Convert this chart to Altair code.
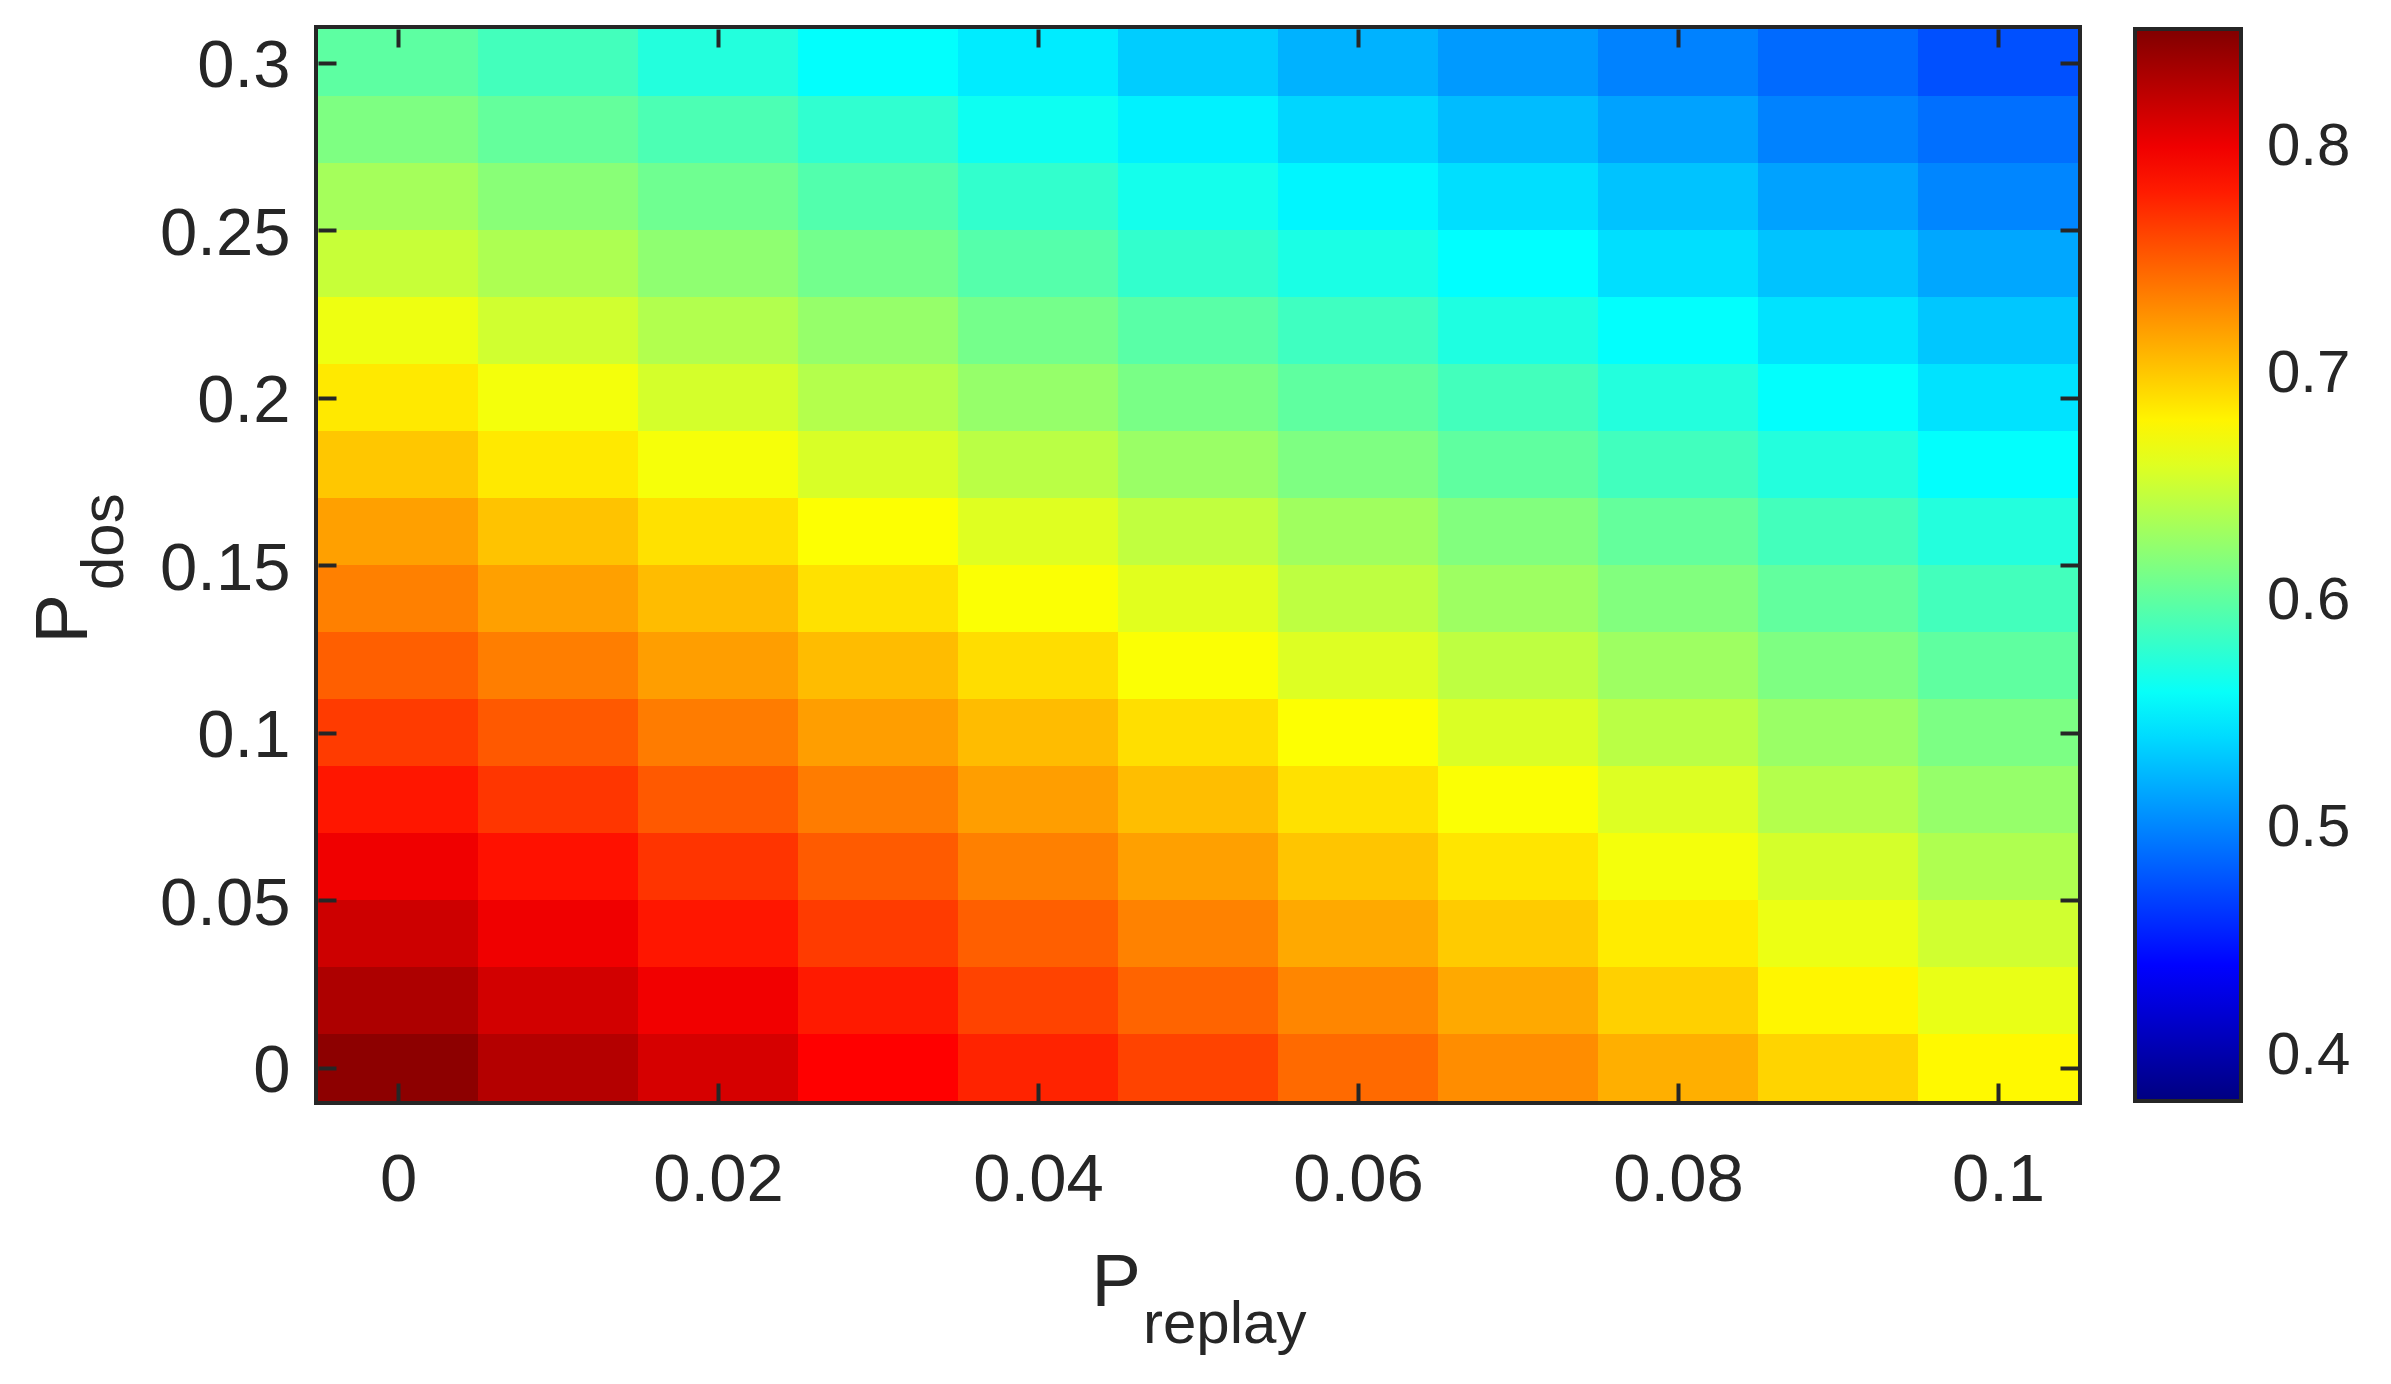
import altair as alt
import pandas as pd

DARK = "#262626"
FONT = "Liberation Sans"

# ---- data ----
x_vals = [0.0, 0.01, 0.02, 0.03, 0.04, 0.05, 0.06, 0.07, 0.08, 0.09, 0.1]
y_vals = [0.0, 0.02, 0.04, 0.06, 0.08, 0.1, 0.12, 0.14, 0.16, 0.18, 0.2,
          0.22, 0.24, 0.26, 0.28, 0.3]

row_y000 = [0.846, 0.828, 0.812, 0.793, 0.777, 0.762, 0.744, 0.728, 0.712, 0.695, 0.678]
row_y002 = [0.831, 0.814, 0.799, 0.781, 0.762, 0.747, 0.731, 0.715, 0.697, 0.679, 0.665]
row_y004 = [0.816, 0.800, 0.783, 0.766, 0.749, 0.733, 0.715, 0.699, 0.684, 0.666, 0.653]
row_y006 = [0.800, 0.785, 0.769, 0.751, 0.734, 0.719, 0.702, 0.687, 0.670, 0.655, 0.638]
row_y008 = [0.783, 0.768, 0.752, 0.736, 0.720, 0.705, 0.689, 0.673, 0.659, 0.640, 0.626]
row_y010 = [0.766, 0.752, 0.736, 0.720, 0.706, 0.690, 0.674, 0.658, 0.643, 0.628, 0.614]
row_y012 = [0.749, 0.735, 0.720, 0.706, 0.691, 0.673, 0.659, 0.645, 0.630, 0.615, 0.601]
row_y014 = [0.734, 0.719, 0.706, 0.689, 0.673, 0.661, 0.645, 0.630, 0.617, 0.602, 0.588]
row_y016 = [0.719, 0.703, 0.689, 0.674, 0.660, 0.646, 0.631, 0.617, 0.603, 0.588, 0.573]
row_y018 = [0.701, 0.685, 0.671, 0.657, 0.643, 0.628, 0.615, 0.601, 0.587, 0.573, 0.558]
row_y020 = [0.685, 0.670, 0.655, 0.640, 0.626, 0.613, 0.601, 0.588, 0.573, 0.558, 0.544]
row_y022 = [0.667, 0.653, 0.639, 0.626, 0.611, 0.598, 0.586, 0.571, 0.558, 0.544, 0.531]
row_y024 = [0.649, 0.637, 0.623, 0.610, 0.596, 0.580, 0.569, 0.557, 0.542, 0.529, 0.516]
row_y026 = [0.633, 0.620, 0.608, 0.595, 0.580, 0.566, 0.553, 0.542, 0.529, 0.514, 0.501]
row_y028 = [0.615, 0.603, 0.592, 0.579, 0.563, 0.551, 0.538, 0.526, 0.514, 0.499, 0.490]
row_y030 = [0.600, 0.588, 0.573, 0.558, 0.548, 0.534, 0.521, 0.510, 0.499, 0.488, 0.476]

rows = [row_y000, row_y002, row_y004, row_y006, row_y008, row_y010, row_y012,
        row_y014, row_y016, row_y018, row_y020, row_y022, row_y024, row_y026,
        row_y028, row_y030]

x_ticks = [0, 0.02, 0.04, 0.06, 0.08, 0.1]
y_ticks = [0, 0.05, 0.1, 0.15, 0.2, 0.25, 0.3]
cbar_ticks = [0.4, 0.5, 0.6, 0.7, 0.8]
cbar_min, cbar_max = 0.38, 0.852

records = []
for yv, row in zip(y_vals, rows):
    for xv, val in zip(x_vals, row):
        records.append({"x": xv, "y": yv, "v": val})
df = pd.DataFrame(records)

# jet colormap stops
jet = ["#000080", "#0000ff", "#0080ff", "#00ffff", "#80ff80",
       "#ffff00", "#ff8000", "#ff0000", "#800000"]
jet_domain = [cbar_min + k * (cbar_max - cbar_min) / 8 for k in range(9)]
color_scale = alt.Scale(type="linear", domain=jet_domain, range=jet,
                        interpolate="rgb")

xs = alt.Scale(domain=[-0.005, 0.105], nice=False, zero=False)
ys = alt.Scale(domain=[-0.01, 0.31], nice=False, zero=False)

PLOT_W, PLOT_H = 1760, 1072

tick_style = dict(offset=-18, tickSize=18, tickWidth=4, tickColor=DARK,
                  domain=False, grid=False, labelFont=FONT, labelFontSize=67,
                  labelColor=DARK, labelOverlap=False, labelFlush=False,
                  titleFont=FONT, titleFontSize=74, titleFontWeight="normal",
                  titleColor=DARK, zindex=2)

base = alt.Chart(df).transform_calculate(
    x0="datum.x - 0.005", x1="datum.x + 0.005",
    y0="datum.y - 0.01", y1="datum.y + 0.01",
)

heat = base.mark_rect().encode(
    x=alt.X("x0:Q", scale=xs, axis=alt.Axis(
        orient="bottom", values=x_ticks, format="~g", labelPadding=46,
        title="P", titleX=773, titleY=222, titleAlign="left",
        titleBaseline="alphabetic", titleAngle=0, **tick_style)),
    x2="x1:Q",
    y=alt.Y("y0:Q", scale=ys, axis=alt.Axis(
        orient="left", values=y_ticks, format="~g", labelPadding=28,
        labelOffset=4,
        title="P", titleX=-250, titleY=614, titleAlign="left",
        titleBaseline="alphabetic", titleAngle=270, **tick_style)),
    y2="y1:Q",
    color=alt.Color("v:Q", scale=color_scale, legend=alt.Legend(
        type="gradient",
        orient="none", legendX=1817, legendY=0, direction="vertical",
        gradientLength=PLOT_H, gradientThickness=106,
        gradientStrokeColor=DARK, gradientStrokeWidth=4,
        values=cbar_ticks, format="~g", labelFont=FONT, labelFontSize=60,
        labelColor=DARK, labelOffset=26, labelOverlap=False, padding=0,
        title=None)),
)

frame = base.mark_rect(opacity=0).encode(
    x=alt.X("x0:Q", scale=xs, axis=alt.Axis(
        orient="top", values=x_ticks, labels=False, title=None, **tick_style)),
    x2="x1:Q",
    y=alt.Y("y0:Q", scale=ys, axis=alt.Axis(
        orient="right", values=y_ticks, labels=False, title=None, **tick_style)),
    y2="y1:Q",
)

sub_x = pd.DataFrame({"label": ["replay"]})
sub_y = pd.DataFrame({"label": ["dos"]})

sub_x_text = alt.Chart(sub_x).mark_text(
    align="left", baseline="alphabetic", font=FONT, fontSize=60, color=DARK
).encode(text="label:N", x=alt.value(825), y=alt.value(1314))

sub_y_text = alt.Chart(sub_y).mark_text(
    align="left", baseline="alphabetic", font=FONT, fontSize=60, color=DARK,
    angle=270
).encode(text="label:N", x=alt.value(-195), y=alt.value(561))

chart = alt.layer(heat, frame, sub_x_text, sub_y_text).resolve_axis(
    x="independent", y="independent"
).properties(
    width=PLOT_W, height=PLOT_H,
    autosize=alt.AutoSizeParams(type="none"),
    padding={"left": 310, "top": 21, "right": 290, "bottom": 260},
    background="white",
).configure_view(stroke=DARK, strokeWidth=8)

chart.save("out.html", embed_options={"renderer": "svg", "actions": False})
